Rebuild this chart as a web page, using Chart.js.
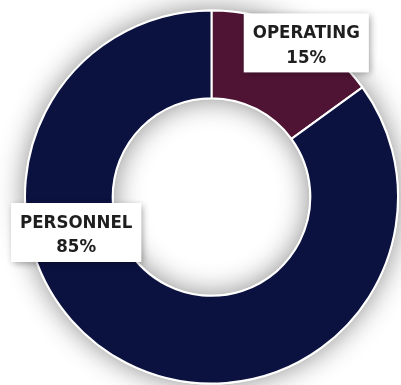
<!DOCTYPE html>
<html>
<head>
<meta charset="utf-8">
<script src="https://cdn.jsdelivr.net/npm/chart.js@4/dist/chart.umd.min.js"></script>
<style>
  html, body { margin: 0; padding: 0; background: #ffffff; }
  #budget { display: block; }
</style>
</head>
<body>
<canvas id="budget" width="401" height="385"></canvas>
<script>
const categories = ["OPERATING", "PERSONNEL"];
const shares = [15, 85];
const sliceColors = ["#4f1433", "#0b1240"];

// soft shadow under the whole ring (falls outward and into the hole)
const ringShadow = {
  id: "ringShadow",
  beforeDatasetsDraw(chart) {
    const arc = chart.getDatasetMeta(0).data[0];
    if (!arc) return;
    const ctx = chart.ctx;
    ctx.save();
    ctx.beginPath();
    ctx.arc(arc.x, arc.y, arc.outerRadius + 1, 0, Math.PI * 2);
    ctx.arc(arc.x, arc.y, arc.innerRadius - 1, 0, Math.PI * 2, true);
    ctx.fillStyle = "#ffffff";
    ctx.shadowColor = "rgba(0,0,0,0.45)";
    ctx.shadowBlur = 28;
    ctx.fill();
    ctx.restore();
  }
};

// white callout boxes with category name and share
const calloutLabels = {
  id: "calloutLabels",
  afterDatasetsDraw(chart, args, opts) {
    const ctx = chart.ctx;
    const arcs = chart.getDatasetMeta(0).data;
    arcs.forEach((arc, i) => {
      const place = opts.place[i];
      const ang = place.angle * Math.PI / 180;
      const cx = arc.x + Math.cos(ang) * arc.outerRadius * place.r;
      const cy = arc.y + Math.sin(ang) * arc.outerRadius * place.r;
      ctx.save();
      ctx.font = opts.font;
      const w = ctx.measureText(categories[i]).width + 18;
      const h = 59;
      ctx.shadowColor = "rgba(0,0,0,0.35)";
      ctx.shadowBlur = 7;
      ctx.shadowOffsetX = 2;
      ctx.shadowOffsetY = 2;
      ctx.fillStyle = "#ffffff";
      ctx.fillRect(cx - w / 2, cy - h / 2, w, h);
      ctx.restore();

      ctx.save();
      ctx.font = opts.font;
      ctx.fillStyle = "#1e1e1e";
      ctx.textAlign = "center";
      ctx.textBaseline = "alphabetic";
      ctx.fillText(categories[i], cx, cy - 4.5);
      ctx.fillText(shares[i] + "%", cx, cy + 20);
      ctx.restore();
    });
  }
};

new Chart(document.getElementById("budget"), {
  type: "doughnut",
  data: {
    labels: categories,
    datasets: [{
      data: shares,
      backgroundColor: sliceColors,
      borderColor: "#ffffff",
      borderWidth: 2
    }]
  },
  options: {
    responsive: false,
    animation: false,
    events: [],
    cutout: "53%",
    layout: { padding: { top: 9, bottom: 0, left: 24, right: 2 } },
    plugins: {
      legend: { display: false },
      tooltip: { enabled: false },
      calloutLabels: {
        font: "bold 18.5px 'DejaVu Sans Condensed', 'DejaVu Sans', sans-serif",
        place: [
          { angle: -58.4, r: 0.97 },
          { angle: 165.3, r: 0.75 }
        ]
      }
    }
  },
  plugins: [ringShadow, calloutLabels]
});
</script>
</body>
</html>
